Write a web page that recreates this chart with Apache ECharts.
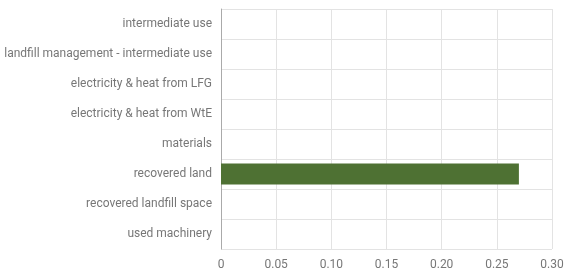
<!DOCTYPE html>
<html>
<head>
<meta charset="utf-8">
<script src="https://cdn.jsdelivr.net/npm/echarts@6/dist/echarts.min.js"></script>
<style>
  html, body { margin: 0; padding: 0; background: #fff; }
  #chart { width: 568px; height: 272px; }
</style>
</head>
<body>
<div id="chart"></div>
<script>
// categories, top to bottom
const categories = [
  "intermediate use",
  "landfill management - intermediate use",
  "electricity & heat from LFG",
  "electricity & heat from WtE",
  "materials",
  "recovered land",
  "recovered landfill space",
  "used machinery"
];
const values = [0, 0, 0, 0, 0, 0.27, 0, 0];

const chart = echarts.init(document.getElementById("chart"));
chart.setOption({
  animation: false,
  textStyle: { fontFamily: "Roboto" },
  grid: { left: 221, right: 16, top: 9, bottom: 23, containLabel: false },
  xAxis: {
    type: "value",
    min: 0,
    max: 0.3,
    interval: 0.05,
    axisLine: { show: false },
    axisTick: { show: false },
    axisLabel: {
      color: "#777",
      fontSize: 12,
      margin: 10,
      formatter: function (v) { return v === 0 ? "0" : v.toFixed(2); }
    },
    splitLine: { lineStyle: { color: "#e3e3e3" } }
  },
  yAxis: {
    type: "category",
    data: categories,
    inverse: true,
    axisLine: { show: true, lineStyle: { color: "#aaa" } },
    axisTick: { show: false },
    axisLabel: { color: "#777", fontSize: 12, margin: 9 },
    splitLine: { show: true, lineStyle: { color: "#e3e3e3" } }
  },
  series: [{
    type: "bar",
    data: values,
    barWidth: "70%",
    itemStyle: { color: "#4e7133" }
  }]
});
</script>
</body>
</html>
